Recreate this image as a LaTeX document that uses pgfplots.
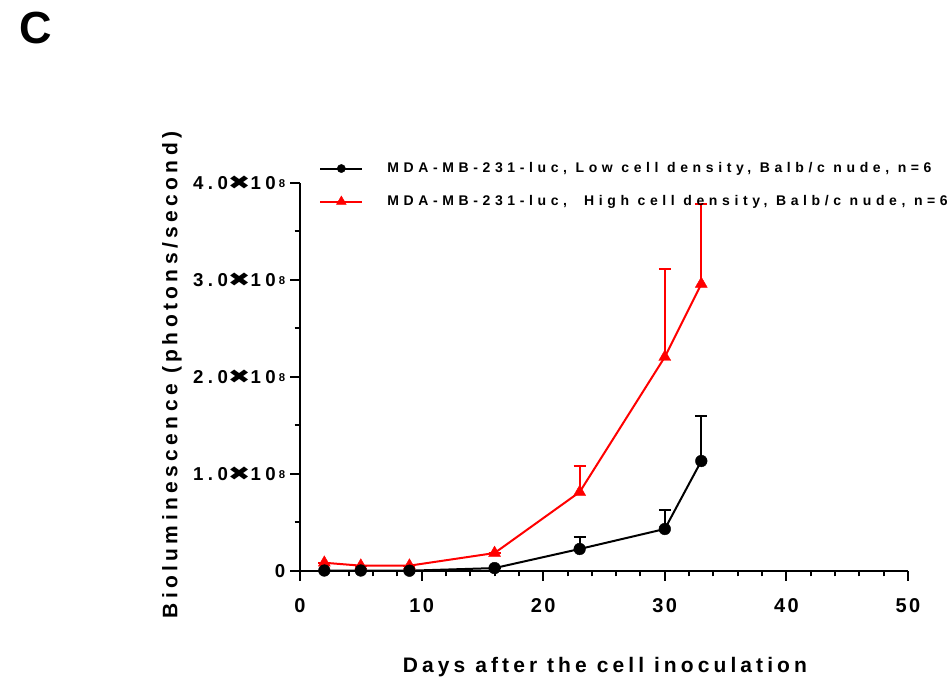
\documentclass[border=0pt]{standalone}
\usepackage{pgfplots}
\pgfplotsset{compat=1.18}
\usepackage{fontspec}
\setmainfont{Liberation Sans}
\newfontfamily\legfont[LetterSpace=33]{Liberation Sans}
\newfontfamily\tickfont[LetterSpace=24]{Liberation Sans}
\newfontfamily\xtickfont[LetterSpace=12]{Liberation Sans}
\newfontfamily\labfont[LetterSpace=21]{Liberation Sans}
\newfontfamily\xlabfont[LetterSpace=19.5]{Liberation Sans}
\newfontfamily\dej{DejaVu Sans}
\newcommand{\sci}[1]{#1.0{\dej\fontsize{14.5}{14.5}\selectfont\scalebox{1.4}[1]{✖}}10\,\raisebox{1.8pt}{\fontsize{8.5}{8.5}\selectfont 8}}

\pgfplotstableread{
d m e
2 0.085 0
5 0.055 0
9 0.055 0
16 0.185 0
23 0.814 0.268
30 2.206 0.907
33 2.959 0.825
}\high
\pgfplotstableread{
d m e
2 0.005 0
5 0.005 0
9 0.003 0
16 0.030 0
23 0.227 0.127
30 0.433 0.196
33 1.134 0.466
}\low

\begin{document}
\begin{tikzpicture}
\useasboundingbox (0,0) rectangle (711.75pt,510pt);
\node[font=\fontsize{33.75}{34}\selectfont\bfseries] at (27pt,489pt) {C};
\begin{axis}[
  at={(225pt,81.75pt)}, anchor=south west, scale only axis,
  width=456pt, height=291pt,
  xmin=0, xmax=50, ymin=0, ymax=4,
  axis lines=left, axis line style={-, line width=1.6pt},
  xtick={0,10,...,50}, ytick={0,1,2,3,4},
  yticklabels={0,\sci{1},\sci{2},\sci{3},\sci{4}},
  /pgf/number format/assume math mode=true,
  minor x tick num=4, minor y tick num=1,
  tick align=outside, major tick length=7.5pt, minor tick length=4pt,
  every tick/.style={black, line width=1.5pt},
  xticklabel style={font=\xtickfont\bfseries\fontsize{15}{15}\selectfont, yshift=-9.5pt},
  yticklabel style={font=\tickfont\bfseries\fontsize{14}{14}\selectfont},
  xlabel={Days after the cell inoculation},
  ylabel={Bioluminescence (photons/second)},
  xlabel style={font=\xlabfont\bfseries\fontsize{15.75}{16}\selectfont,
    at={(rel axis cs:0.5016,-0.247)}, anchor=center},
  ylabel style={font=\labfont\bfseries\fontsize{15.75}{16}\selectfont,
    at={(rel axis cs:-0.2105,0.505)}, anchor=center},
  legend style={at={(rel axis cs:0.0248,1.062)}, anchor=north west, draw=none, fill=none,
    font=\legfont\bfseries\fontsize{10.5}{11}\selectfont,
    nodes={inner sep=0pt, text height=8pt, text depth=2pt},
    row sep=14.75pt, column sep=18pt},
  legend cell align=left,
  legend image code/.code={\draw[mark repeat=2,mark phase=2,#1] plot coordinates {(0pt,0pt)(15.75pt,0pt)(31.5pt,0pt)};},
  clip=false,
]
\addlegendimage{black, line width=1.5pt, mark=*, mark size=3.1pt, mark options={solid, line width=0.3pt}}
\addlegendentry{MDA-MB-231-luc, Low cell density, Balb/c nude, n=6}
\addlegendimage{red, line width=1.5pt, mark=triangle*, mark size=4.2pt, mark options={solid, line width=0.3pt}}
\addlegendentry{MDA-MB-231-luc,\ \ High cell density, Balb/c nude, n=6}

\addplot[red, line width=1.5pt, mark=triangle*, mark size=5.2pt, mark options={line width=0.3pt}, forget plot,
  error bars/.cd, y dir=plus, y explicit, error mark=|, error bar style={line width=1.5pt},
  error mark options={line width=1.5pt, mark size=4.5pt}]
  table[x=d, y=m, y error=e] {\high};
\addplot[black, line width=1.5pt, mark=*, mark size=4.4pt, mark options={line width=0.3pt}, forget plot,
  error bars/.cd, y dir=plus, y explicit, error mark=|, error bar style={line width=1.5pt},
  error mark options={line width=1.5pt, mark size=4.5pt}]
  table[x=d, y=m, y error=e] {\low};
\end{axis}
\end{tikzpicture}
\end{document}
